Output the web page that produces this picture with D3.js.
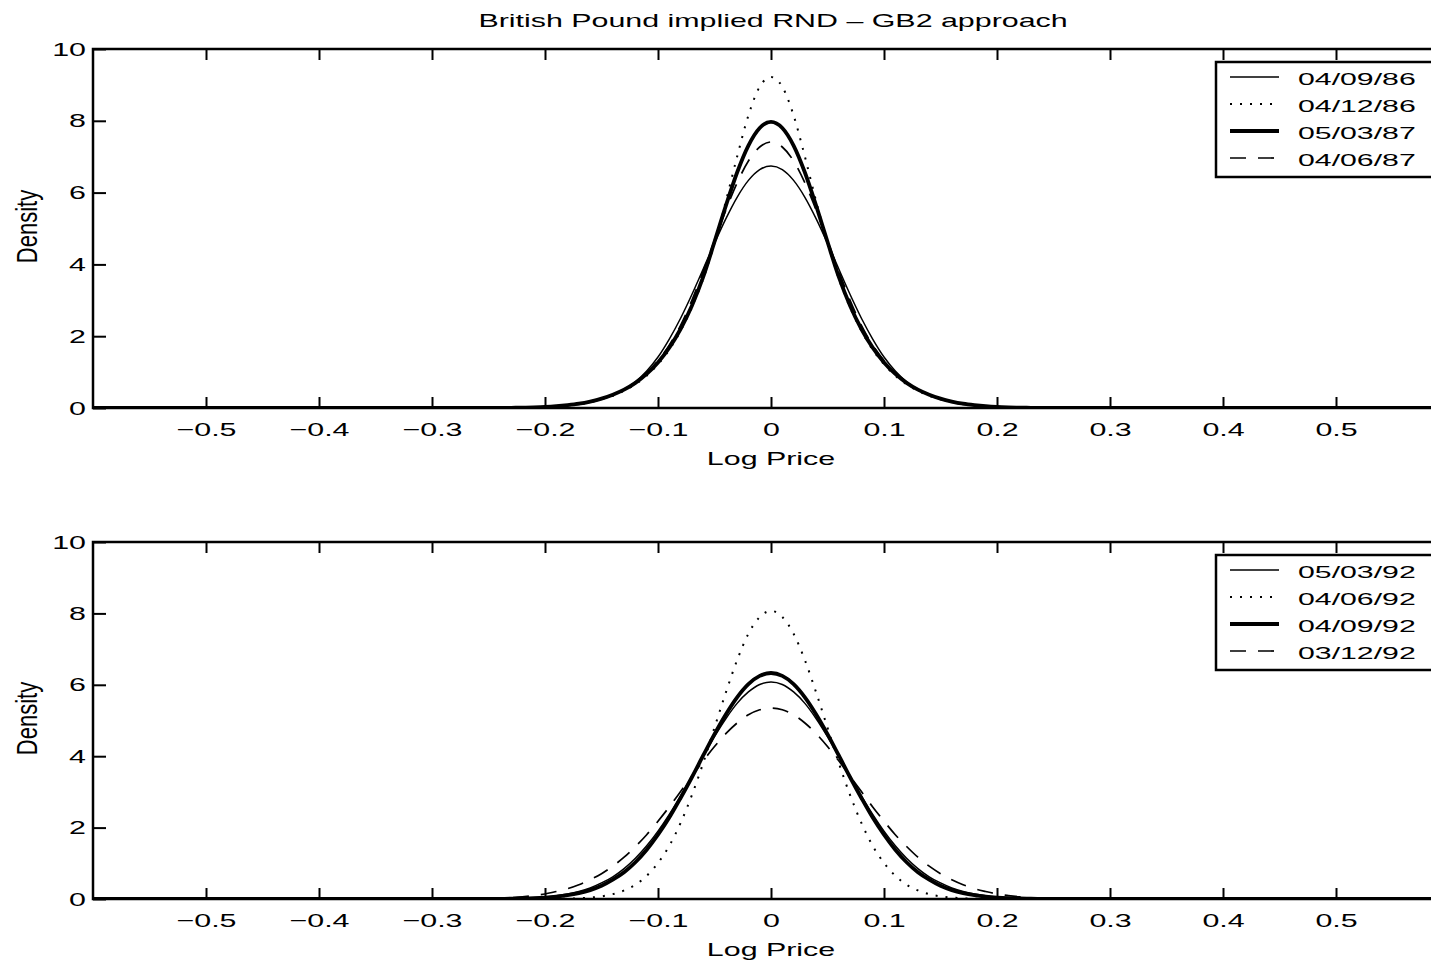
<!DOCTYPE html>
<html>
<head>
<meta charset="utf-8">
<script src="https://cdn.jsdelivr.net/npm/d3@7"></script>
<style>
  body { margin: 0; background: #fff; }
  text { font-family: "Liberation Sans", Arial, sans-serif; fill: #000; }
</style>
</head>
<body>
<script>
// log price grid (x)
const logPrice = [-0.6,
  -0.25, -0.24, -0.23, -0.22, -0.21, -0.2, -0.19, -0.18, -0.17, -0.16, -0.15, -0.14, -0.13,
  -0.12, -0.11, -0.1, -0.09, -0.08, -0.07, -0.06, -0.05, -0.04, -0.03, -0.02, -0.01,
  0,
  0.01, 0.02, 0.03, 0.04, 0.05, 0.06, 0.07, 0.08, 0.09, 0.1, 0.11, 0.12, 0.13,
  0.14, 0.15, 0.16, 0.17, 0.18, 0.19, 0.2, 0.21, 0.22, 0.23, 0.24, 0.25,
  0.6];

// top panel: 1986/87
const topDates = ['04/09/86', '04/12/86', '05/03/87', '04/06/87'];
const rnd040986 = [0,
  0.001, 0.003, 0.005, 0.009, 0.015, 0.025, 0.04, 0.065, 0.10, 0.16, 0.24, 0.36, 0.50,
  0.73, 1.03, 1.42, 1.92, 2.50, 3.16, 3.87, 4.59, 5.27, 5.87, 6.34, 6.64,
  6.74,
  6.64, 6.34, 5.87, 5.27, 4.59, 3.87, 3.16, 2.50, 1.92, 1.42, 1.03, 0.73, 0.50,
  0.36, 0.24, 0.16, 0.10, 0.065, 0.04, 0.025, 0.015, 0.009, 0.005, 0.003, 0.001,
  0];
const rnd041286 = [0,
  0, 0.002, 0.004, 0.009, 0.016, 0.028, 0.045, 0.07, 0.11, 0.16, 0.24, 0.34, 0.48,
  0.66, 0.9, 1.22, 1.62, 2.15, 2.8, 3.6, 4.6, 5.75, 7.0, 8.15, 8.95,
  9.22,
  8.95, 8.15, 7.0, 5.75, 4.6, 3.6, 2.8, 2.15, 1.62, 1.22, 0.9, 0.66, 0.48,
  0.34, 0.24, 0.16, 0.11, 0.07, 0.045, 0.028, 0.016, 0.009, 0.004, 0.002, 0,
  0];
const rnd050387 = [0,
  0, 0.002, 0.005, 0.01, 0.018, 0.03, 0.05, 0.08, 0.12, 0.18, 0.26, 0.37, 0.51,
  0.70, 0.95, 1.27, 1.68, 2.2, 2.85, 3.65, 4.63, 5.63, 6.56, 7.31, 7.80,
  7.97,
  7.80, 7.31, 6.56, 5.63, 4.63, 3.65, 2.85, 2.2, 1.68, 1.27, 0.95, 0.70, 0.51,
  0.37, 0.26, 0.18, 0.12, 0.08, 0.05, 0.03, 0.018, 0.01, 0.005, 0.002, 0,
  0];
const rnd040687 = [0,
  0, 0.002, 0.005, 0.01, 0.018, 0.03, 0.05, 0.08, 0.12, 0.18, 0.26, 0.37, 0.52,
  0.72, 0.98, 1.32, 1.75, 2.3, 3.0, 3.81, 4.67, 5.51, 6.27, 6.88, 7.27,
  7.41,
  7.27, 6.88, 6.27, 5.51, 4.67, 3.81, 3.0, 2.3, 1.75, 1.32, 0.98, 0.72, 0.52,
  0.37, 0.26, 0.18, 0.12, 0.08, 0.05, 0.03, 0.018, 0.01, 0.005, 0.002, 0,
  0];

// bottom panel: 1992
const bottomDates = ['05/03/92', '04/06/92', '04/09/92', '03/12/92'];
const rnd050392 = [0,
  0.004, 0.007, 0.013, 0.022, 0.036, 0.058, 0.092, 0.14, 0.21, 0.31, 0.45, 0.62, 0.85,
  1.14, 1.49, 1.90, 2.37, 2.89, 3.44, 4.00, 4.55, 5.05, 5.48, 5.80, 6.01,
  6.08,
  6.01, 5.80, 5.48, 5.05, 4.55, 4.00, 3.44, 2.89, 2.37, 1.90, 1.49, 1.14, 0.85,
  0.62, 0.45, 0.31, 0.21, 0.14, 0.092, 0.058, 0.036, 0.022, 0.013, 0.007, 0.004,
  0];
const rnd040692 = [0,
  0, 0, 0, 0, 0, 0.002, 0.005, 0.01, 0.02, 0.04, 0.074, 0.136, 0.24,
  0.40, 0.65, 1.01, 1.49, 2.13, 2.91, 3.81, 4.80, 5.78, 6.69, 7.43, 7.90,
  8.07,
  7.90, 7.43, 6.69, 5.78, 4.80, 3.81, 2.91, 2.13, 1.49, 1.01, 0.65, 0.40, 0.24,
  0.136, 0.074, 0.04, 0.02, 0.01, 0.005, 0.002, 0, 0, 0, 0, 0,
  0];
const rnd040992 = [0,
  0.002, 0.004, 0.008, 0.014, 0.024, 0.041, 0.067, 0.107, 0.166, 0.25, 0.37, 0.54, 0.75,
  1.03, 1.38, 1.80, 2.28, 2.83, 3.41, 4.02, 4.62, 5.17, 5.65, 6.02, 6.25,
  6.33,
  6.25, 6.02, 5.65, 5.17, 4.62, 4.02, 3.41, 2.83, 2.28, 1.80, 1.38, 1.03, 0.75,
  0.54, 0.37, 0.25, 0.166, 0.107, 0.067, 0.041, 0.024, 0.014, 0.008, 0.004, 0.002,
  0];
const rnd031292 = [0,
  0.005, 0.015, 0.035, 0.06, 0.095, 0.14, 0.21, 0.29, 0.40, 0.54, 0.71, 0.92, 1.17,
  1.47, 1.80, 2.18, 2.58, 3.01, 3.44, 3.87, 4.27, 4.63, 4.93, 5.16, 5.30,
  5.35,
  5.30, 5.16, 4.93, 4.63, 4.27, 3.87, 3.44, 3.01, 2.58, 2.18, 1.80, 1.47, 1.17,
  0.92, 0.71, 0.54, 0.40, 0.29, 0.21, 0.14, 0.095, 0.06, 0.035, 0.015, 0.005,
  0];

const xTicks = [-0.5, -0.4, -0.3, -0.2, -0.1, 0, 0.1, 0.2, 0.3, 0.4, 0.5];
const yTicks = [0, 2, 4, 6, 8, 10];

// line styles: thin solid, dotted, thick solid, dashed
const lineStyles = [
  {width: 1.5, dash: null},
  {width: 2, dash: '2,8'},
  {width: 3.8, dash: null},
  {width: 1.7, dash: '16,12'}
];

const W = 1431, H = 966;
const SX = 1.6; // the bitmap font is stretched horizontally

const svg = d3.select('body').append('svg')
  .attr('width', W)
  .attr('height', H);

svg.append('rect').attr('width', W).attr('height', H).attr('fill', '#fff');

svg.append('text')
  .attr('transform', `translate(773,27) scale(${SX},1)`)
  .attr('text-anchor', 'middle')
  .attr('font-size', 19)
  .text('British Pound implied RND \u2013 GB2 approach');

const x = d3.scaleLinear().domain([-0.6, 0.6]).range([93, 1449]);
const fmt = d => d === 0 ? '0' : d3.format('.1f')(d);

function drawPanel(top, bottom, dates, series, id) {
  const y = d3.scaleLinear().domain([0, 10]).range([bottom, top]);
  const g = svg.append('g');

  g.append('clipPath').attr('id', id)
    .append('rect')
      .attr('x', x(-0.6)).attr('y', top)
      .attr('width', x(0.6) - x(-0.6)).attr('height', bottom - top);

  const line = d3.line()
    .x((d, i) => x(logPrice[i]))
    .y(d => y(d))
    .curve(d3.curveMonotoneX);

  g.append('g')
    .attr('clip-path', `url(#${id})`)
    .selectAll('path')
    .data(series)
    .join('path')
      .attr('d', d => line(d))
      .attr('fill', 'none')
      .attr('stroke', '#000')
      .attr('stroke-width', (d, i) => lineStyles[i].width)
      .attr('stroke-dasharray', (d, i) => lineStyles[i].dash);

  // axes box
  g.append('path')
    .attr('d', `M${x(0.6)},${top}H${x(-0.6)}V${bottom}H${x(0.6)}`)
    .attr('fill', 'none')
    .attr('stroke', '#000')
    .attr('stroke-width', 2.5);

  const xb = g.append('g')
    .attr('transform', `translate(0,${bottom})`)
    .call(d3.axisBottom(x).tickValues(xTicks).tickSize(-11).tickPadding(15).tickFormat(fmt));
  xb.attr('font-size', 19);
  xb.select('.domain').remove();
  xb.selectAll('line').attr('stroke-width', 2);
  xb.selectAll('text').attr('transform', `scale(${SX},1)`);

  const xt = g.append('g')
    .attr('transform', `translate(0,${top})`)
    .call(d3.axisTop(x).tickValues(xTicks).tickSize(-11).tickFormat(''));
  xt.select('.domain').remove();
  xt.selectAll('line').attr('stroke-width', 2);

  const yl = g.append('g')
    .attr('transform', `translate(${x(-0.6)},0)`)
    .call(d3.axisLeft(y).tickValues(yTicks).tickSize(-13));
  yl.attr('font-size', 19);
  yl.select('.domain').remove();
  yl.selectAll('line').attr('stroke-width', 2);
  yl.selectAll('text')
    .attr('x', 0)
    .attr('transform', `translate(-7,0) scale(${SX},1)`);

  g.append('text')
    .attr('transform', `translate(771,${bottom + 57}) scale(${SX},1)`)
    .attr('text-anchor', 'middle')
    .attr('font-size', 19)
    .text('Log Price');

  g.append('text')
    .attr('transform', `translate(37,${(top + bottom) / 2 - 2}) rotate(-90) scale(1.16,${SX})`)
    .attr('text-anchor', 'middle')
    .attr('font-size', 19)
    .text('Density');

  // legend
  const lt = top + 13;
  const leg = g.append('g');
  leg.append('rect')
    .attr('x', 1216).attr('y', lt)
    .attr('width', 260).attr('height', 115)
    .attr('fill', '#fff')
    .attr('stroke', '#000')
    .attr('stroke-width', 2.5);

  dates.forEach((d, i) => {
    const ry = lt + 15 + 27 * i;
    leg.append('line')
      .attr('x1', 1230).attr('x2', 1279)
      .attr('y1', ry).attr('y2', ry)
      .attr('stroke', '#000')
      .attr('stroke-width', lineStyles[i].width)
      .attr('stroke-dasharray', lineStyles[i].dash);
    leg.append('text')
      .attr('transform', `translate(1298,${ry + 8}) scale(1.78,1)`)
      .attr('font-size', 17)
      .text(d);
  });
}

drawPanel(49, 408, topDates, [rnd040986, rnd041286, rnd050387, rnd040687], 'clipTop');
drawPanel(542, 899, bottomDates, [rnd050392, rnd040692, rnd040992, rnd031292], 'clipBottom');
</script>
</body>
</html>
